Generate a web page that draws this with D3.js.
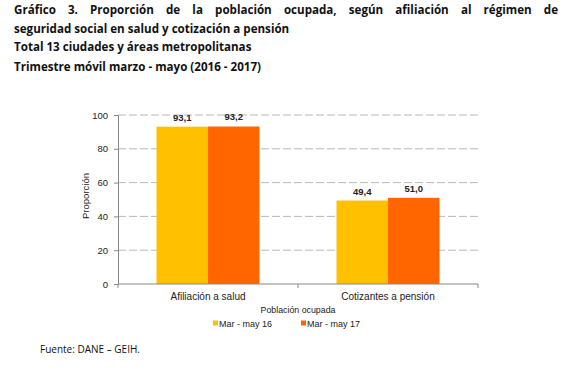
<!DOCTYPE html>
<html><head><meta charset="utf-8">
<script src="https://cdn.jsdelivr.net/npm/d3@7"></script>
<style>body{margin:0;background:#fff}svg{display:block}</style>
</head><body>
<svg id="c" width="572" height="368"></svg>
<script>
const categories = ["Afiliación a salud", "Cotizantes a pensión"];
const seriesNames = ["Mar - may 16", "Mar - may 17"];
const values2016 = [93.1, 49.4];
const values2017 = [93.2, 51.0];
const yTicks = [0, 20, 40, 60, 80, 100];
const colors = ["#FFC000", "#FF6600"];
const titleLines = [
  "Gráfico 3. Proporción de la población ocupada, según afiliación al régimen de",
  "seguridad social en salud y cotización a pensión",
  "Total 13 ciudades y áreas metropolitanas",
  "Trimestre móvil marzo - mayo (2016 - 2017)"
];

const svg = d3.select("#c");
const L = 118, R = 478, T = 115, B = 284;
const x0 = d3.scaleBand().domain(categories).range([L, R]).paddingInner(0.428).paddingOuter(0.214);
const x1 = d3.scaleBand().domain(seriesNames).range([0, x0.bandwidth()]);
const y = d3.scaleLinear().domain([0, 100]).range([B, T]);

// Title
const tfont = "'Open Sans', sans-serif";
const tY = [14, 33, 51, 71];
titleLines.forEach((line, i) => {
  if (i === 0) {
    const words = line.split(" ");
    const g = svg.append("g");
    const nodes = words.map(w => g.append("text").attr("font-family", tfont).attr("font-weight", "bold")
      .attr("font-size", 11.6).attr("fill", "#111").attr("y", tY[i]).text(w));
    const widths = nodes.map(n => n.node().getComputedTextLength());
    const total = d3.sum(widths);
    const gap = (558 - 14 - total) / (words.length - 1);
    let cx = 14;
    nodes.forEach((n, k) => { n.attr("x", cx); cx += widths[k] + gap; });
  } else {
    svg.append("text").attr("font-family", tfont).attr("font-weight", "bold")
      .attr("font-size", 11.6).attr("fill", "#111").attr("x", 14).attr("y", tY[i]).text(line);
  }
});

// gridlines
svg.append("g").selectAll("line").data(yTicks.filter(d => d > 0)).join("line")
  .attr("x1", L).attr("x2", R).attr("y1", d => y(d)).attr("y2", d => y(d))
  .attr("stroke", "#a6a6a6").attr("stroke-width", 0.8).attr("stroke-dasharray", "8,3");

// bars
const afont = "'Liberation Sans', Arial, sans-serif";
const series = [values2016, values2017];
categories.forEach((c, ci) => {
  seriesNames.forEach((s, si) => {
    const v = series[si][ci];
    svg.append("rect").attr("x", x0(c) + x1(s)).attr("width", x1.bandwidth())
      .attr("y", y(v)).attr("height", y(0) - y(v)).attr("fill", colors[si]);
    svg.append("text").attr("x", x0(c) + x1(s) + x1.bandwidth() / 2).attr("y", y(v) - 6)
      .attr("text-anchor", "middle").attr("font-family", afont).attr("font-weight", "bold")
      .attr("font-size", 9.5).attr("fill", "#222").text(v.toFixed(1).replace(".", ","));
  });
});

// y axis
const yAxis = svg.append("g").attr("transform", `translate(${L},0)`)
  .call(d3.axisLeft(y).tickValues(yTicks).tickSize(4).tickPadding(6));
yAxis.select(".domain").attr("stroke", "#888");
yAxis.selectAll(".tick line").attr("stroke", "#888");
yAxis.selectAll("text").attr("font-family", afont).attr("font-size", 9.5).attr("fill", "#222");

// x axis
const xa = svg.append("g");
xa.append("line").attr("x1", L).attr("x2", R).attr("y1", B).attr("y2", B).attr("stroke", "#888");
const bounds = [L, (L + R) / 2, R];
xa.selectAll("line.t").data(bounds).join("line").attr("class", "t")
  .attr("x1", d => d).attr("x2", d => d).attr("y1", B).attr("y2", B + 4).attr("stroke", "#888");
xa.selectAll("text").data(categories).join("text")
  .attr("x", d => x0(d) + x0.bandwidth() / 2).attr("y", 300).attr("text-anchor", "middle")
  .attr("font-family", afont).attr("font-size", 10).attr("fill", "#222").text(d => d);

svg.append("text").attr("x", 298).attr("y", 313).attr("text-anchor", "middle")
  .attr("font-family", afont).attr("font-size", 8.8).attr("fill", "#222").text("Población ocupada");

svg.append("text").attr("transform", `translate(89,196) rotate(-90)`).attr("text-anchor", "middle")
  .attr("font-family", afont).attr("font-size", 9.5).attr("fill", "#222").text("Proporción");

// legend
const legX = [213, 301];
seriesNames.forEach((s, i) => {
  svg.append("rect").attr("x", legX[i]).attr("y", 320.5).attr("width", 5).attr("height", 5).attr("fill", colors[i]);
  svg.append("text").attr("x", legX[i] + 6).attr("y", 327).attr("font-family", afont)
    .attr("font-size", 9).attr("fill", "#222").text(s);
});

svg.append("text").attr("x", 40).attr("y", 353).attr("font-family", tfont).attr("font-size", 10)
  .attr("fill", "#111").text("Fuente: DANE – GEIH.");
</script>
</body></html>
